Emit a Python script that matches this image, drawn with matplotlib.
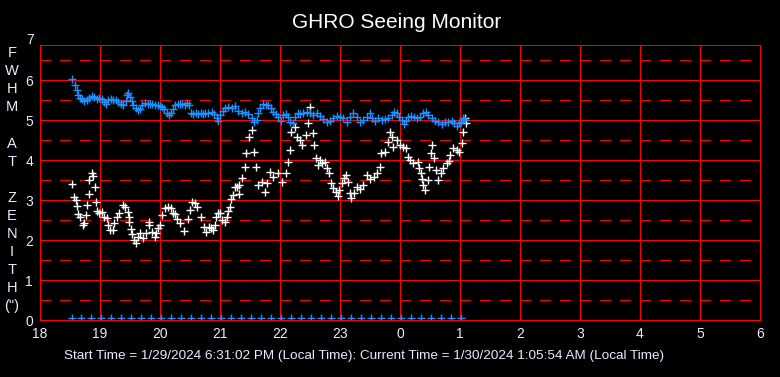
import matplotlib
matplotlib.use("Agg")
import matplotlib.pyplot as plt
from matplotlib.ticker import MultipleLocator

plt.rcParams['font.family'] = ['Liberation Sans', 'DejaVu Sans']
plt.rcParams['lines.scale_dashes'] = False

title = "GHRO Seeing Monitor"
footer = "Start Time = 1/29/2024 6:31:02 PM (Local Time): Current Time = 1/30/2024 1:05:54 AM (Local Time)"
ylabel_chars = ["F", "W", "H", "M", "", "A", "T", "", "Z", "E", "N", "I", "T", "H", '(")']

x_ticks = [18, 19, 20, 21, 22, 23, 24, 25, 26, 27, 28, 29, 30]
x_tick_labels = ["18", "19", "20", "21", "22", "23", "0", "1", "2", "3", "4", "5", "6"]
y_ticks = [0, 1, 2, 3, 4, 5, 6]

# Blue series (upper): hours since midnight of start day, FWHM
blue_t = [18.538, 18.583, 18.612, 18.638, 18.667, 18.705, 18.738, 18.778, 18.817, 18.862,
          18.905, 18.945, 18.988, 19.028, 19.067, 19.100, 19.138, 19.183, 19.222, 19.262,
          19.305, 19.350, 19.388, 19.428, 19.455, 19.472, 19.500, 19.528, 19.555, 19.595,
          19.628, 19.667, 19.705, 19.750, 19.795, 19.833, 19.872, 19.917, 19.962, 20.000,
          20.038, 20.072, 20.112, 20.150, 20.183, 20.212, 20.250, 20.295, 20.333, 20.372,
          20.417, 20.455, 20.488, 20.517, 20.555, 20.600, 20.638, 20.683, 20.722, 20.750,
          20.805, 20.862, 20.900, 20.945, 20.972, 21.000, 21.045, 21.083, 21.138, 21.195,
          21.250, 21.305, 21.362, 21.417, 21.472, 21.528, 21.572, 21.612, 21.638, 21.667,
          21.712, 21.762, 21.805, 21.845, 21.888, 21.933, 21.972, 22.012, 22.055, 22.100,
          22.138, 22.167, 22.212, 22.250, 22.295, 22.333, 22.388, 22.445, 22.500, 22.555,
          22.612, 22.667, 22.722, 22.778, 22.833, 22.888, 22.945, 23.000, 23.055, 23.112,
          23.167, 23.222, 23.278, 23.333, 23.388, 23.445, 23.500, 23.538, 23.583, 23.638,
          23.695, 23.750, 23.805, 23.862, 23.905, 23.945, 23.988, 24.028, 24.067, 24.100,
          24.138, 24.183, 24.233, 24.278, 24.333, 24.388, 24.428, 24.472, 24.528, 24.583,
          24.638, 24.695, 24.750, 24.805, 24.862, 24.905, 24.945, 24.983, 25.017, 25.055,
          25.083]
blue_v = [6.02, 5.87, 5.74, 5.63, 5.55, 5.52, 5.47, 5.49, 5.55, 5.60,
          5.57, 5.53, 5.55, 5.52, 5.45, 5.41, 5.49, 5.52, 5.49, 5.49,
          5.45, 5.41, 5.37, 5.47, 5.62, 5.68, 5.57, 5.47, 5.37, 5.30,
          5.24, 5.28, 5.37, 5.43, 5.39, 5.41, 5.39, 5.37, 5.37, 5.35,
          5.33, 5.27, 5.18, 5.12, 5.18, 5.28, 5.37, 5.39, 5.41, 5.39,
          5.37, 5.43, 5.37, 5.18, 5.16, 5.18, 5.16, 5.18, 5.16, 5.18,
          5.17, 5.21, 5.15, 5.04, 4.98, 5.12, 5.23, 5.29, 5.33, 5.29,
          5.35, 5.23, 5.18, 5.21, 5.15, 5.04, 4.96, 5.00, 5.17, 5.29,
          5.40, 5.38, 5.38, 5.29, 5.21, 5.15, 5.07, 4.98, 5.12, 5.15,
          5.08, 4.96, 4.92, 5.08, 5.18, 5.15, 5.17, 5.21, 5.18, 5.12,
          5.17, 5.10, 5.02, 4.96, 4.98, 5.04, 5.10, 5.08, 5.04, 4.96,
          5.08, 5.18, 5.08, 4.96, 5.00, 5.08, 5.17, 5.04, 4.98, 5.04,
          5.00, 5.02, 5.04, 5.12, 5.21, 5.17, 5.08, 5.00, 4.90, 4.98,
          5.08, 5.10, 5.07, 5.04, 5.07, 5.17, 5.21, 5.12, 5.04, 4.98,
          4.96, 4.90, 4.96, 4.94, 4.98, 4.92, 4.85, 4.92, 4.96, 5.04,
          5.00]

# White series (lower)
white_t = [18.54, 18.86, 18.89, 18.82, 18.91, 18.57, 18.60, 18.81, 18.93, 18.61,
           18.79, 18.63, 18.66, 18.77, 18.71, 18.74, 18.95, 18.98, 19.03, 19.06,
           19.11, 19.14, 19.17, 19.22, 19.23, 19.28, 19.32, 19.39, 19.42, 19.46,
           19.49, 19.49, 19.51, 19.54, 19.57, 19.60, 19.64, 19.67, 19.72, 19.77,
           19.81, 19.82, 19.86, 19.92, 19.94, 19.97, 20.00, 20.03, 20.08, 20.14,
           20.18, 20.22, 20.25, 20.29, 20.33, 20.40, 20.47, 20.50, 20.54, 20.58,
           20.62, 20.68, 20.73, 20.76, 20.81, 20.85, 20.89, 20.92, 20.94, 20.97,
           21.00, 21.04, 21.09, 21.11, 21.14, 21.17, 21.19, 21.22, 21.25, 21.28,
           21.31, 21.32, 21.36, 21.42, 21.43, 21.49, 21.53, 21.57, 21.60, 21.64,
           21.70, 21.75, 21.78, 21.83, 21.89, 21.97, 22.03, 22.10, 22.14, 22.17,
           22.19, 22.25, 22.28, 22.33, 22.37, 22.44, 22.46, 22.50, 22.55, 22.56,
           22.60, 22.63, 22.67, 22.70, 22.75, 22.78, 22.82, 22.85, 22.89, 22.93,
           22.96, 22.99, 23.03, 23.07, 23.10, 23.14, 23.17, 23.19, 23.23, 23.28,
           23.33, 23.39, 23.45, 23.50, 23.56, 23.61, 23.66, 23.69, 23.75, 23.80,
           23.83, 23.86, 23.89, 23.95, 24.00, 24.05, 24.10, 24.13, 24.17, 24.22,
           24.30, 24.32, 24.35, 24.36, 24.39, 24.42, 24.47, 24.49, 24.51, 24.54,
           24.57, 24.60, 24.64, 24.68, 24.72, 24.78, 24.82, 24.83, 24.89, 24.95,
           24.99, 25.03, 25.05, 25.08, 25.10]
white_v = [3.39, 3.68, 3.60, 3.50, 3.32, 3.08, 3.00, 3.14, 2.96, 2.86,
           2.87, 2.65, 2.57, 2.62, 2.38, 2.42, 2.73, 2.68, 2.71, 2.58,
           2.54, 2.38, 2.25, 2.25, 2.42, 2.58, 2.67, 2.88, 2.83, 2.71,
           2.58, 2.44, 2.27, 2.15, 2.00, 1.92, 2.08, 2.17, 2.04, 2.18,
           2.38, 2.46, 2.21, 2.08, 2.17, 2.29, 2.38, 2.62, 2.79, 2.83,
           2.79, 2.68, 2.65, 2.52, 2.42, 2.23, 2.52, 2.75, 2.96, 2.92,
           2.83, 2.58, 2.33, 2.21, 2.33, 2.29, 2.25, 2.38, 2.58, 2.67,
           2.68, 2.50, 2.44, 2.58, 2.73, 2.83, 3.02, 3.12, 3.33, 3.33,
           3.38, 3.14, 3.54, 3.83, 4.17, 4.58, 4.75, 4.19, 3.83, 3.38,
           3.46, 3.21, 3.42, 3.71, 3.58, 3.67, 3.46, 3.67, 3.96, 4.25,
           4.71, 4.83, 4.58, 4.50, 4.38, 4.63, 4.92, 5.33, 4.67, 4.38,
           4.04, 3.88, 4.00, 3.92, 3.96, 3.79, 3.67, 3.42, 3.29, 3.21,
           3.10, 3.25, 3.42, 3.54, 3.63, 3.46, 3.17, 3.04, 3.17, 3.33,
           3.27, 3.38, 3.63, 3.52, 3.58, 3.67, 3.83, 4.17, 4.21, 4.46,
           4.71, 4.58, 4.33, 4.50, 4.38, 4.33, 4.29, 4.08, 4.00, 3.92,
           3.96, 3.79, 3.67, 3.52, 3.38, 3.25, 3.50, 3.82, 4.17, 4.38,
           4.04, 3.75, 3.50, 3.67, 3.79, 3.92, 3.98, 4.13, 4.29, 4.25,
           4.21, 4.42, 4.71, 5.04, 4.92]

# Blue markers along the baseline (10-minute sample marks)
base_t = [18.53, 18.68, 18.85, 19.01, 19.18, 19.35, 19.51, 19.68, 19.85, 20.01,
          20.18, 20.35, 20.51, 20.68, 20.85, 21.01, 21.18, 21.35, 21.51, 21.68,
          21.85, 22.01, 22.18, 22.35, 22.51, 22.68, 22.85, 23.01, 23.18, 23.35,
          23.51, 23.68, 23.85, 24.01, 24.18, 24.35, 24.51, 24.68, 24.85, 25.01]
base_v = [0.06] * len(base_t)

W, H = 780, 377
fig = plt.figure(figsize=(W / 100, H / 100), dpi=100, facecolor='black')
ax = fig.add_axes([40 / W, (H - 320) / H, 720 / W, 275 / H], facecolor='black')

ax.set_xlim(18, 30)
ax.set_ylim(0, 6.875)
ax.set_xticks(x_ticks)
ax.set_xticklabels(x_tick_labels)
ax.set_yticks(y_ticks)
ax.yaxis.set_minor_locator(MultipleLocator(0.5))
ax.tick_params(which='both', length=0, colors='white', labelsize=10)
ax.tick_params(axis='x', pad=5)
ax.tick_params(axis='y', pad=5)
for lab in ax.get_xticklabels() + ax.get_yticklabels():
    lab.set_color('#e8eaff')

ax.set_axisbelow(True)
ax.grid(True, which='major', color='#ff0000', lw=0.72, ls='-', antialiased=False)
ax.yaxis.grid(True, which='minor', color='#ff0000', lw=0.72, ls=(0, (7.6, 6.8)),
              antialiased=False)
for s in ax.spines.values():
    s.set_color('#ff0000')
    s.set_linewidth(0.72)
    s.set_antialiased(False)

mk = dict(marker='+', ls='none', mew=1.0)
ax.plot(white_t, white_v, color='white', ms=5.2, **mk)
ax.plot(blue_t, blue_v, color='#1e90ff', ms=5.6, **mk)
ax.plot(base_t, base_v, color='#1e90ff', ms=5.2, **mk)

fig.text(34 / W, 1 - 40 / H, "7", color='#e8eaff', fontsize=10, ha='right', va='center')
fig.text(397 / W, 1 - 22 / H, title, color='white', fontsize=15, ha='center', va='center')
for i, ch in enumerate(ylabel_chars):
    if ch:
        fig.text(12 / W, 1 - (53.3 + 18.05 * i) / H, ch, color='#e8eaff', fontsize=10.5,
                 ha='center', va='center')
fig.text(364 / W, 1 - 355.5 / H, footer, color='#e8eaff', fontsize=9.7,
         ha='center', va='center')

fig.savefig("out.png", dpi=100, facecolor='black')
